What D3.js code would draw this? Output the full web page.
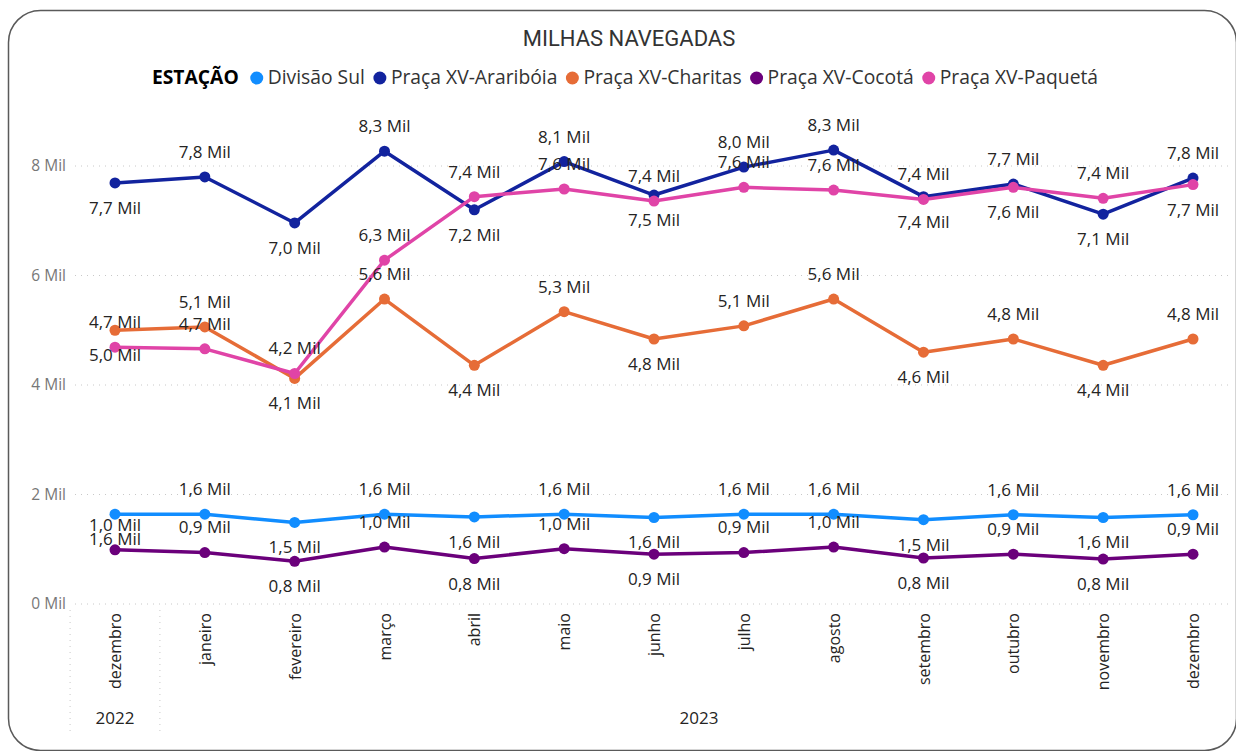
<!DOCTYPE html>
<html>
<head>
<meta charset="utf-8">
<script src="https://cdn.jsdelivr.net/npm/d3@7"></script>
<style>
  body { margin: 0; background: #fff; }
  svg { display: block; }
</style>
</head>
<body>
<div id="chart"></div>
<script>
// milhas navegadas por estação, dez/2022 a dez/2023

var months = ["dezembro", "janeiro", "fevereiro", "março", "abril", "maio", "junho",
              "julho", "agosto", "setembro", "outubro", "novembro", "dezembro"]
var years = ["2022", "2023", "2023", "2023", "2023", "2023", "2023",
             "2023", "2023", "2023", "2023", "2023", "2023"]

var stations = ["Divisão Sul", "Praça XV-Araribóia", "Praça XV-Charitas", "Praça XV-Cocotá", "Praça XV-Paquetá"]

var divisaoSul = [1640, 1640, 1490, 1640, 1590, 1640, 1580, 1640, 1640, 1540, 1630, 1580, 1630]
var arariboia  = [7690, 7800, 6960, 8270, 7200, 8080, 7470, 7980, 8290, 7440, 7670, 7120, 7780]
var charitas   = [5000, 5060, 4120, 5570, 4360, 5340, 4840, 5080, 5570, 4600, 4840, 4360, 4840]
var cocota     = [ 990,  940,  780, 1040,  830, 1010,  910,  940, 1040,  840,  910,  820,  910]
var paqueta    = [4690, 4660, 4210, 6280, 7440, 7580, 7360, 7610, 7560, 7390, 7610, 7410, 7660]

var yTicks = [0, 2000, 4000, 6000, 8000]

// which side of the point the data label sits on (a = above, b = below)
var labelSide = {
    "Divisão Sul":        "babababaababa",
    "Praça XV-Araribóia": "babababaababa",
    "Praça XV-Charitas":  "babababaababa",
    "Praça XV-Cocotá":    "aabababaababa",
    "Praça XV-Paquetá":   "aaaaaaaaaabab"
}

var colors = ["#118DFF", "#12239E", "#E66C37", "#6B007B", "#E044A7"]

var series = [divisaoSul, arariboia, charitas, cocota, paqueta].map(function (vals, i) {
    return { name: stations[i], values: vals, color: colors[i] }
})

var width = 1236
var height = 751
var font = "'Open Sans', 'Noto Sans', sans-serif"

var svg = d3.select("#chart")
    .append("svg")
    .attr("width", width)
    .attr("height", height)
    .style("font-family", font)

// card border
svg.append("rect")
    .attr("x", 8.5).attr("y", 10.5)
    .attr("width", 1228).attr("height", 740)
    .attr("rx", 32)
    .attr("fill", "#fff")
    .attr("stroke", "#5a5a5a")
    .attr("stroke-width", 1.5)

// title
svg.append("text")
    .attr("x", 629).attr("y", 46)
    .attr("text-anchor", "middle")
    .attr("font-family", "Roboto, sans-serif")
    .attr("font-size", 22)
    .attr("fill", "#333")
    .text("MILHAS NAVEGADAS")

// scales
var x = d3.scalePoint()
    .domain(d3.range(months.length))
    .range([115, 1193])

var y = d3.scaleLinear()
    .domain([0, 8000])
    .range([604, 166])

// gridlines
svg.append("g")
    .selectAll("line")
    .data(yTicks)
    .join("line")
    .attr("x1", 75).attr("x2", 1228)
    .attr("y1", d => y(d)).attr("y2", d => y(d))
    .attr("stroke", "#c8c8c8")
    .attr("stroke-width", 1)
    .attr("stroke-dasharray", "1,5")

// y axis
svg.append("g")
    .attr("transform", "translate(66,0)")
    .call(d3.axisLeft(y).tickValues(yTicks).tickSize(0).tickPadding(0)
        .tickFormat(d => (d / 1000) + " Mil"))
    .call(g => g.select(".domain").remove())
    .call(g => g.selectAll("text")
        .attr("font-family", font)
        .attr("font-size", 15.5)
        .attr("fill", "#777"))

// x axis
svg.append("g")
    .attr("transform", "translate(0,604)")
    .call(d3.axisBottom(x).tickSize(0).tickFormat(i => months[i]))
    .call(g => g.select(".domain").remove())
    .call(g => g.selectAll("text")
        .attr("transform", "rotate(-90)")
        .attr("x", -9)
        .attr("y", 0)
        .attr("dy", "0.35em")
        .attr("text-anchor", "end")
        .attr("font-family", font)
        .attr("font-size", 16)
        .attr("fill", "#252423"))

// year groups
var yearGroups = d3.groups(d3.range(months.length), i => years[i])
svg.append("g")
    .selectAll("text")
    .data(yearGroups)
    .join("text")
    .attr("x", d => d3.mean(d[1], i => x(i)))
    .attr("y", 724)
    .attr("text-anchor", "middle")
    .attr("font-size", 17)
    .attr("fill", "#252423")
    .text(d => d[0])

// separators between year groups
var step = x.step()
var seps = [x(0) - step / 2].concat(yearGroups.slice(0, -1).map(d => x(d3.max(d[1])) + step / 2))
svg.append("g")
    .selectAll("line")
    .data(seps)
    .join("line")
    .attr("x1", d => d).attr("x2", d => d)
    .attr("y1", 610).attr("y2", 734)
    .attr("stroke", "#c8c8c8")
    .attr("stroke-dasharray", "1,5")

// lines and markers
var line = d3.line()
    .x((d, i) => x(i))
    .y(d => y(d))

var sg = svg.append("g")
    .selectAll("g")
    .data(series)
    .join("g")

sg.append("path")
    .attr("fill", "none")
    .attr("stroke", d => d.color)
    .attr("stroke-width", 3.5)
    .attr("stroke-linejoin", "round")
    .attr("d", d => line(d.values))

sg.selectAll("circle")
    .data(d => d.values.map((v, i) => ({ v: v, i: i, color: d.color })))
    .join("circle")
    .attr("cx", d => x(d.i))
    .attr("cy", d => y(d.v))
    .attr("r", 5.5)
    .attr("fill", d => d.color)

// data labels
var fmt = v => (v / 1000).toFixed(1).replace(".", ",") + " Mil"
var labels = []
series.forEach(function (s) {
    var sides = labelSide[s.name]
    s.values.forEach(function (v, i) {
        labels.push({ v: v, i: i, side: sides[i] })
    })
})
svg.append("g")
    .selectAll("text")
    .data(labels)
    .join("text")
    .attr("x", d => x(d.i))
    .attr("y", d => y(d.v) + (d.side === "a" ? -25 : 25))
    .attr("dy", "0.35em")
    .attr("text-anchor", "middle")
    .attr("font-size", 17)
    .attr("fill", "#252423")
    .text(d => fmt(d.v))

// legend
var legend = svg.append("g").attr("transform", "translate(0,84)")
var lx = 0
var head = legend.append("text")
    .attr("x", 0)
    .attr("font-size", 19.3)
    .attr("font-weight", "bold")
    .attr("fill", "#000")
    .text("ESTAÇÃO")
lx = head.node().getComputedTextLength() + 18
series.forEach(function (s) {
    legend.append("circle")
        .attr("cx", lx).attr("cy", -6)
        .attr("r", 6.5)
        .attr("fill", s.color)
    var t = legend.append("text")
        .attr("x", lx + 11)
        .attr("font-size", 19.3)
        .attr("fill", "#333")
        .text(s.name)
    lx += 11 + t.node().getComputedTextLength() + 15
})
var lw = lx - 15
legend.attr("transform", "translate(" + (625 - lw / 2) + ",84)")
</script>
</body>
</html>
